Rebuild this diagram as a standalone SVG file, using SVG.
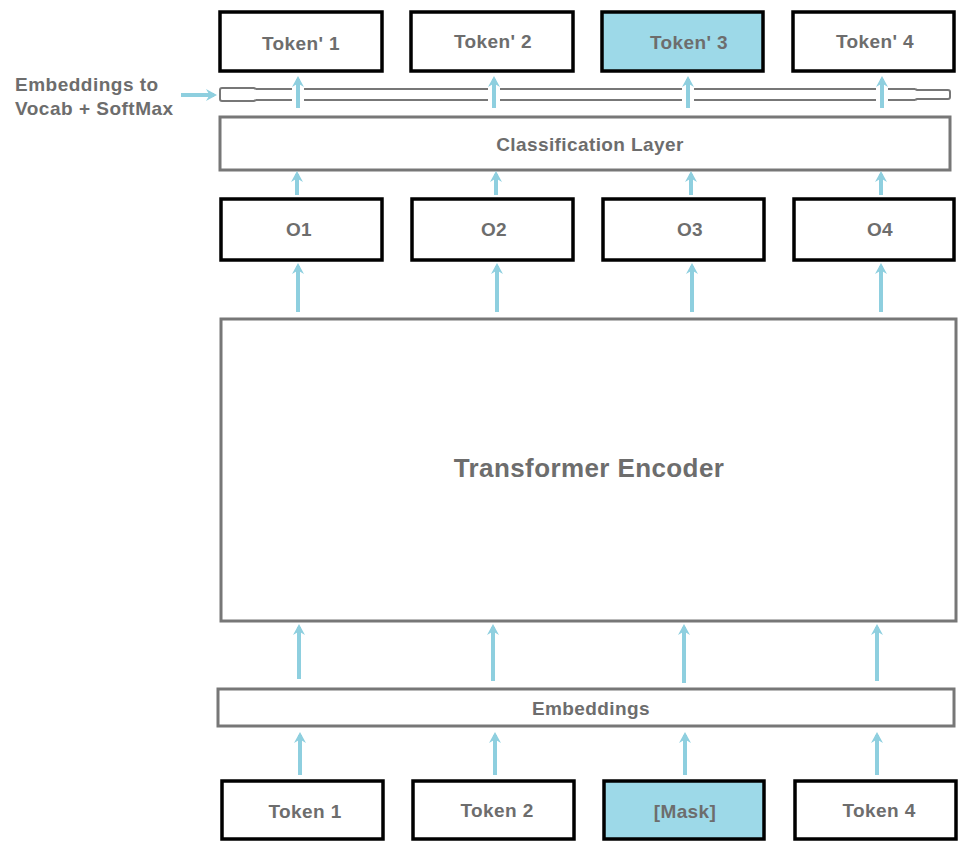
<svg xmlns="http://www.w3.org/2000/svg" width="960" height="841" viewBox="0 0 960 841">
<defs>
<marker id="ah" viewBox="0 0 12 12" refX="9" refY="6" markerWidth="3" markerHeight="3" orient="auto" markerUnits="strokeWidth">
<path d="M12,6 L1,0 L4.5,6 L1,12 Z" fill="#8ecfdf"/>
</marker>
</defs>
<style>
.tok{fill:#fff;stroke:#000;stroke-width:3.5}
.mask{fill:#9dd9e8;stroke:#000;stroke-width:3.5}
.layer{fill:#fff;stroke:#777;stroke-width:3}
.bar{fill:none;stroke:#777;stroke-width:2}
.t{font-family:"Liberation Sans",Arial,sans-serif;font-weight:bold;fill:#6d6d6d;text-anchor:middle;font-size:19px;letter-spacing:0.4px}
.l{font-family:"Liberation Sans",Arial,sans-serif;font-weight:bold;fill:#6d6d6d;font-size:19px;letter-spacing:0.5px}
.a{stroke:#8ecfdf;stroke-width:4;fill:none}
</style>
<rect width="960" height="841" fill="#fff"/>

<g id="vocab-label">
<text class="l" x="15" y="91">Embeddings to</text>
<text class="l" x="15" y="115">Vocab + SoftMax</text>
</g>

<g id="vocab-bar">
<path class="bar" d="M256,89 H292 M304,89 H488 M500,89 H682 M694,89 H876 M888,89 H915"/>
<path class="bar" d="M256,100 H292 M304,100 H488 M500,100 H682 M694,100 H876 M888,100 H915"/>
<path class="bar" d="M256,89 L254,88 H222 Q220,88 220,90 V99 Q220,101 222,101 H254 L256,100"/>
<path class="bar" d="M915,89 L917,90 H948 Q950,90 950,92 V97 Q950,99 948,99 H917 L915,100"/>
</g>

<g id="token-prime-1"><rect class="tok" x="220" y="12" width="162" height="59"/><text class="t" x="301" y="50">Token' 1</text></g>
<g id="token-prime-2"><rect class="tok" x="411" y="12" width="162" height="59"/><text class="t" x="493" y="48">Token' 2</text></g>
<g id="token-prime-3"><rect class="mask" x="602" y="12" width="161" height="59"/><text class="t" x="689" y="49">Token' 3</text></g>
<g id="token-prime-4"><rect class="tok" x="793" y="12" width="161" height="59"/><text class="t" x="875" y="48">Token' 4</text></g>

<g id="classification-layer"><rect class="layer" x="220" y="117" width="730" height="53"/><text class="t" x="590" y="151">Classification Layer</text></g>

<g id="o1"><rect class="tok" x="221" y="199" width="161" height="61"/><text class="t" x="299" y="236">O1</text></g>
<g id="o2"><rect class="tok" x="412" y="199" width="161" height="61"/><text class="t" x="494" y="236">O2</text></g>
<g id="o3"><rect class="tok" x="603" y="199" width="161" height="61"/><text class="t" x="690" y="236">O3</text></g>
<g id="o4"><rect class="tok" x="794" y="199" width="160" height="61"/><text class="t" x="880" y="236">O4</text></g>

<g id="transformer-encoder"><rect class="layer" x="221" y="319" width="735" height="302"/><text class="t" x="589" y="477" style="font-size:26px">Transformer Encoder</text></g>

<g id="embeddings"><rect class="layer" x="218" y="689" width="736" height="37"/><text class="t" x="591" y="715">Embeddings</text></g>

<g id="token-1"><rect class="tok" x="222" y="781" width="161" height="58"/><text class="t" x="305" y="818">Token 1</text></g>
<g id="token-2"><rect class="tok" x="413" y="781" width="161" height="58"/><text class="t" x="497" y="817">Token 2</text></g>
<g id="mask"><rect class="mask" x="604" y="781" width="160" height="58"/><text class="t" x="685" y="818">[Mask]</text></g>
<g id="token-4"><rect class="tok" x="795" y="781" width="161" height="58"/><text class="t" x="879" y="817">Token 4</text></g>

<g id="connectors">
<path class="a" marker-end="url(#ah)" d="M181,95 H214"/>
<path class="a" marker-end="url(#ah)" d="M298,108 V79"/>
<path class="a" marker-end="url(#ah)" d="M494,108 V79"/>
<path class="a" marker-end="url(#ah)" d="M688,108 V79"/>
<path class="a" marker-end="url(#ah)" d="M882,108 V79"/>

<path class="a" marker-end="url(#ah)" d="M297,195 V174"/>
<path class="a" marker-end="url(#ah)" d="M496,195 V174"/>
<path class="a" marker-end="url(#ah)" d="M691,195 V174"/>
<path class="a" marker-end="url(#ah)" d="M881,195 V174"/>

<path class="a" marker-end="url(#ah)" d="M298,312 V266"/>
<path class="a" marker-end="url(#ah)" d="M497,312 V266"/>
<path class="a" marker-end="url(#ah)" d="M692,312 V266"/>
<path class="a" marker-end="url(#ah)" d="M881,312 V266"/>

<path class="a" marker-end="url(#ah)" d="M299,679 V627"/>
<path class="a" marker-end="url(#ah)" d="M493,681 V627"/>
<path class="a" marker-end="url(#ah)" d="M684,683 V627"/>
<path class="a" marker-end="url(#ah)" d="M877,681 V627"/>

<path class="a" marker-end="url(#ah)" d="M300,775 V735"/>
<path class="a" marker-end="url(#ah)" d="M495,775 V735"/>
<path class="a" marker-end="url(#ah)" d="M685,775 V735"/>
<path class="a" marker-end="url(#ah)" d="M877,775 V735"/>
</g>
</svg>
